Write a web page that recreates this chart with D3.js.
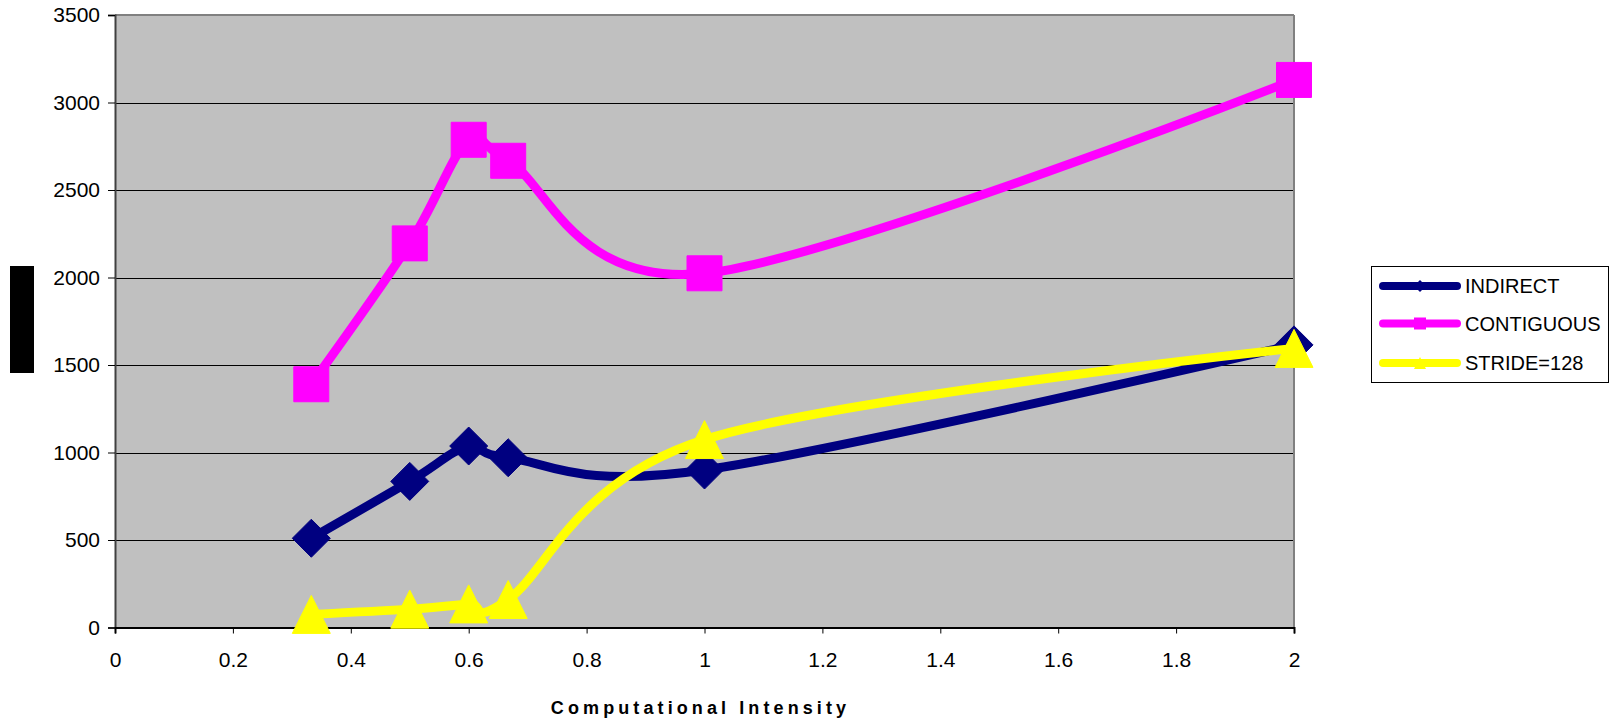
<!DOCTYPE html>
<html>
<head>
<meta charset="utf-8">
<script src="https://cdn.jsdelivr.net/npm/d3@7/dist/d3.min.js"></script>
<style>
  html, body { margin: 0; padding: 0; background: #ffffff; }
  svg { display: block; }
  text { font-family: "Liberation Sans", Arial, sans-serif; fill: #000; }
</style>
</head>
<body>
<svg id="chart" width="1610" height="725"></svg>
<script>
// ---- data ----
const xValues = [0.333, 0.5, 0.6, 0.667, 1, 2];
const indirect = [510, 835, 1037, 970, 900, 1615];
const contiguous = [1390, 2195, 2787, 2667, 2024, 3129];
const stride128 = [75, 105, 135, 160, 1074, 1595];
const seriesNames = ["INDIRECT", "CONTIGUOUS", "STRIDE=128"];
const seriesColors = ["#000080", "#FF00FF", "#FFFF00"];
const seriesMarkers = ["diamond", "square", "triangle"];
const yTicks = [0, 500, 1000, 1500, 2000, 2500, 3000, 3500];
const xTicks = [0, 0.2, 0.4, 0.6, 0.8, 1, 1.2, 1.4, 1.6, 1.8, 2];
const xTitle = "Computational Intensity";

const seriesValues = [indirect, contiguous, stride128];

const svg = d3.select("#chart");
const L = 115, R = 1294, T = 15, B = 627.5;
const x = d3.scaleLinear().domain([0, 2]).range([L, R]);
const y = d3.scaleLinear().domain([0, 3500]).range([B, T]);

// plot background
svg.append("rect").attr("x", L).attr("y", T).attr("width", R - L).attr("height", B - T)
  .attr("fill", "#C0C0C0");

// gridlines
svg.append("g").selectAll("line").data(yTicks.filter(d => d > 0 && d < 3500)).join("line")
  .attr("x1", L).attr("x2", R).attr("y1", d => Math.round(y(d)) + 0.5).attr("y2", d => Math.round(y(d)) + 0.5)
  .attr("stroke", "#000").attr("stroke-width", 1);

// plot border top/right (gray)
svg.append("line").attr("x1", L).attr("x2", R).attr("y1", T).attr("y2", T)
  .attr("stroke", "#808080").attr("stroke-width", 2);
svg.append("line").attr("x1", R).attr("x2", R).attr("y1", T).attr("y2", B)
  .attr("stroke", "#808080").attr("stroke-width", 2);

// y axis
const yAxis = d3.axisLeft(y).tickValues(yTicks).tickSize(7).tickPadding(8).tickFormat(d3.format("d"));
const gy = svg.append("g").attr("transform", `translate(${L},0)`).call(yAxis);
gy.select(".domain").attr("stroke", "#404040").attr("stroke-width", 2);
gy.selectAll(".tick line").attr("stroke", "#000");
gy.selectAll(".tick text").attr("font-size", 21).attr("font-family", "Liberation Sans, Arial, sans-serif").attr("fill", "#000");

// x axis
const xAxis = d3.axisBottom(x).tickValues(xTicks).tickSize(6).tickPadding(19).tickFormat(d => d3.format("~g")(d));
const gx = svg.append("g").attr("transform", `translate(0,${B})`).call(xAxis);
gx.select(".domain").attr("stroke", "#000").attr("stroke-width", 2);
gx.selectAll(".tick line").attr("stroke", "#000");
gx.selectAll(".tick text").attr("font-size", 21).attr("font-family", "Liberation Sans, Arial, sans-serif").attr("fill", "#000");

// marker path generator
function markerPath(type, s) {
  if (type === "diamond") return `M0,${-s}L${s},0L0,${s}L${-s},0Z`;
  if (type === "square") return `M${-s},${-s}H${s}V${s}H${-s}Z`;
  return `M0,${-s}L${s},${s}L${-s},${s}Z`;
}

const line = d3.line().x(d => x(d[0])).y(d => y(d[1])).curve(d3.curveCardinal.tension(0));

seriesValues.forEach((vals, i) => {
  const pts = xValues.map((xv, j) => [xv, vals[j]]);
  const g = svg.append("g");
  g.append("path").datum(pts).attr("d", line)
    .attr("fill", "none").attr("stroke", seriesColors[i]).attr("stroke-width", 9)
    .attr("stroke-linejoin", "round").attr("stroke-linecap", "round");
  const size = seriesMarkers[i] === "square" ? 17.5 : 19;
  g.selectAll("path.m").data(pts).join("path").attr("class", "m")
    .attr("transform", d => `translate(${x(d[0])},${y(d[1])})`)
    .attr("d", markerPath(seriesMarkers[i], size))
    .attr("fill", seriesColors[i]).attr("stroke", seriesColors[i]).attr("stroke-width", 1).attr("stroke-linejoin", "round");
});

// y axis label (rendered as black block)
svg.append("rect").attr("x", 10).attr("y", 266).attr("width", 24).attr("height", 107).attr("fill", "#000");

// x title
svg.append("text").attr("x", (L + R) / 2 - 4).attr("y", 714).attr("text-anchor", "middle")
  .attr("font-size", 18).attr("font-weight", "bold").attr("letter-spacing", "4.1px")
  .text(xTitle);

// legend
const lg = svg.append("g");
lg.append("rect").attr("x", 1371.5).attr("y", 266.5).attr("width", 237).attr("height", 116)
  .attr("fill", "#fff").attr("stroke", "#000").attr("stroke-width", 1);
const rowsY = [286, 323.5, 363];
seriesNames.forEach((name, i) => {
  const cy = rowsY[i];
  lg.append("line").attr("x1", 1383).attr("x2", 1457).attr("y1", cy).attr("y2", cy)
    .attr("stroke", seriesColors[i]).attr("stroke-width", 8).attr("stroke-linecap", "round");
  lg.append("path").attr("transform", `translate(1420,${cy})`)
    .attr("d", markerPath(seriesMarkers[i], 6)).attr("fill", seriesColors[i]);
  lg.append("text").attr("x", 1465).attr("y", cy + 7).attr("font-size", 20).text(name);
});
</script>
</body>
</html>
